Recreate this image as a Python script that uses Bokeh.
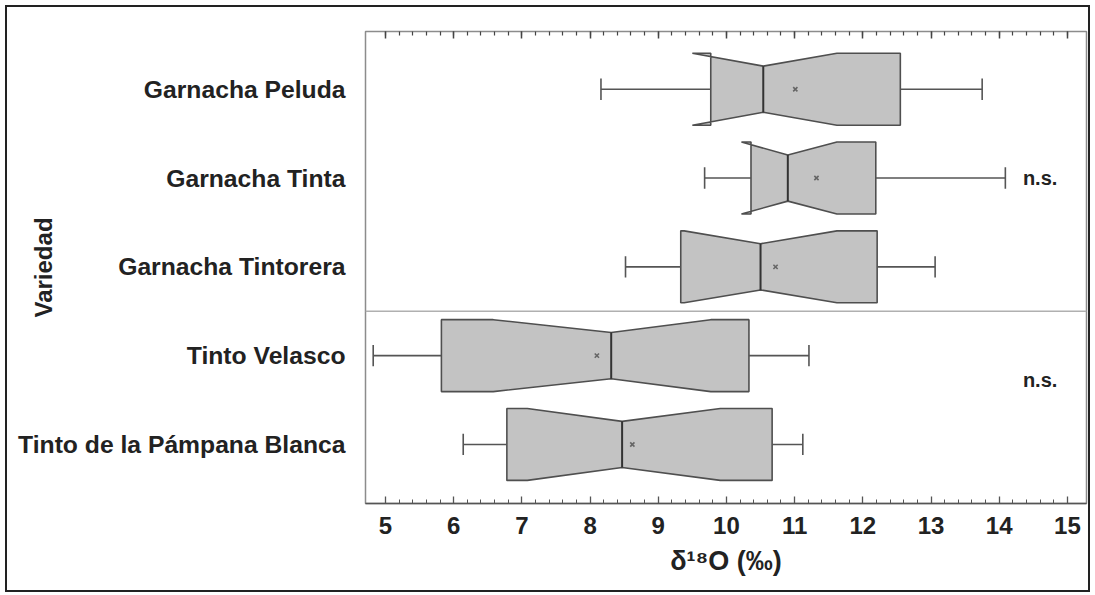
from bokeh.plotting import figure
from bokeh.models import Range1d, FixedTicker, LinearAxis, Span
from bokeh.layouts import column
from bokeh.core.properties import value
from bokeh.embed import file_html
from bokeh.resources import INLINE

# ---- data ----
categories = ["Tinto de la Pámpana Blanca", "Tinto Velasco", "Garnacha Tintorera",
              "Garnacha Tinta", "Garnacha Peluda"]
positions = [1, 2, 3, 4, 5]
whisk_lo = [6.14, 4.82, 8.52, 9.68, 8.16]
q1 = [6.78, 5.82, 9.33, 10.36, 9.77]
notch_lo = [7.08, 6.58, 9.38, 10.22, 9.50]
median = [8.47, 8.31, 10.50, 10.90, 10.54]
notch_hi = [9.91, 9.77, 11.62, 11.62, 11.62]
q3 = [10.67, 10.33, 12.21, 12.19, 12.55]
whisk_hi = [11.12, 11.21, 13.06, 14.09, 13.75]
mean = [8.62, 8.10, 10.72, 11.32, 11.01]
x_ticks = [5, 6, 7, 8, 9, 10, 11, 12, 13, 14, 15]
minor_ticks = [5 + 0.2 * i for i in range(51)]
ns_x = [14.6, 14.6]
ns_y = [4.0, 1.73]
ns_text = ["n.s.", "n.s."]
group_sep = 2.5

FONT = "Liberation Sans"
BOX_H = 0.405
NOTCH_H = 0.26
CAP_H = 0.12

p = figure(frame_width=721, frame_height=472,
           min_border_left=358, min_border_right=2, min_border_top=24, min_border_bottom=87,
           x_range=Range1d(4.707, 15.28), y_range=Range1d(0.335, 5.65),
           output_backend="svg", toolbar_location=None)
p.xgrid.visible = False
p.ygrid.visible = False
p.outline_line_color = "#8c8c8c"
p.outline_line_width = 1.5
p.background_fill_color = "white"
p.border_fill_color = "white"

# boxes (notched)
xs, ys = [], []
for c, a, nl, m, nh, b in zip(positions, q1, notch_lo, median, notch_hi, q3):
    xs.append([a, nl, m, nh, b, b, nh, m, nl, a])
    ys.append([c + BOX_H, c + BOX_H, c + NOTCH_H, c + BOX_H, c + BOX_H,
               c - BOX_H, c - BOX_H, c - NOTCH_H, c - BOX_H, c - BOX_H])
p.patches(xs, ys, fill_color="#c3c3c3", line_color="#4f4f4f", line_width=1.6)

# whiskers
p.segment(x0=whisk_lo, y0=positions, x1=q1, y1=positions, line_color="#555555", line_width=1.6)
p.segment(x0=q3, y0=positions, x1=whisk_hi, y1=positions, line_color="#555555", line_width=1.6)
p.segment(x0=whisk_lo, y0=[c - CAP_H for c in positions], x1=whisk_lo,
          y1=[c + CAP_H for c in positions], line_color="#555555", line_width=1.6)
p.segment(x0=whisk_hi, y0=[c - CAP_H for c in positions], x1=whisk_hi,
          y1=[c + CAP_H for c in positions], line_color="#555555", line_width=1.6)
# medians
p.segment(x0=median, y0=[c - NOTCH_H for c in positions], x1=median,
          y1=[c + NOTCH_H for c in positions], line_color="#333333", line_width=2)
# means
p.scatter(mean, positions, marker="x", size=6, line_color="#666666", line_width=1.6)

# group separator
p.add_layout(Span(location=group_sep, dimension="width", line_color="#b0b0b0", line_width=1.6))

# n.s. labels
p.text(x=ns_x, y=ns_y, text=ns_text, text_font=value(FONT), text_font_style="bold",
       text_font_size="20px", text_align="center", text_baseline="middle", text_color="#222222")

# bottom axis
xa = p.xaxis[0]
xa.ticker = FixedTicker(ticks=x_ticks, minor_ticks=minor_ticks)
xa.major_tick_in = 7
xa.major_tick_out = 0
xa.minor_tick_in = 4
xa.minor_tick_out = 0
xa.axis_line_color = "#555555"
xa.axis_line_width = 1.5
xa.major_tick_line_color = "#555555"
xa.major_tick_line_width = 1.3
xa.minor_tick_line_color = "#555555"
xa.major_label_text_font = FONT
xa.major_label_text_font_style = "bold"
xa.major_label_text_font_size = "24px"
xa.major_label_text_color = "#222222"
xa.major_label_standoff = 13
xa.axis_label = "δ¹⁸O (‰)"
xa.axis_label_text_font = FONT
xa.axis_label_text_font_style = "bold"
xa.axis_label_text_font_size = "27px"
xa.axis_label_text_color = "#222222"
xa.axis_label_standoff = 9

# top axis (ticks only)
ta = LinearAxis(ticker=FixedTicker(ticks=x_ticks, minor_ticks=minor_ticks),
                major_label_overrides={t: "" for t in x_ticks})
ta.major_tick_in = 7
ta.major_tick_out = 0
ta.minor_tick_in = 4
ta.minor_tick_out = 0
ta.axis_line_color = "#8c8c8c"
ta.major_tick_line_color = "#444444"
ta.major_tick_line_width = 1.5
ta.minor_tick_line_color = "#444444"
ta.minor_tick_line_width = 1.2
ta.major_label_text_font_size = "1px"
ta.major_label_standoff = 0
p.add_layout(ta, "above")

# left axis (categories + title)
ya = p.yaxis[0]
ya.ticker = FixedTicker(ticks=positions)
ya.major_label_overrides = {pos: name for pos, name in zip(positions, categories)}
ya.major_tick_line_color = None
ya.minor_tick_line_color = None
ya.axis_line_color = None
ya.major_label_text_font = FONT
ya.major_label_text_font_style = "bold"
ya.major_label_text_font_size = "24.7px"
ya.major_label_text_color = "#222222"
ya.major_label_standoff = 14
ya.axis_label = "Variedad"
ya.axis_label_text_font = FONT
ya.axis_label_text_font_style = "bold"
ya.axis_label_text_font_size = "24px"
ya.axis_label_text_color = "#222222"
ya.axis_label_standoff = -42

layout = column(p, styles={"border": "2px solid #222222", "margin": "5px"})
open("out.html", "w").write(file_html(layout, INLINE))
